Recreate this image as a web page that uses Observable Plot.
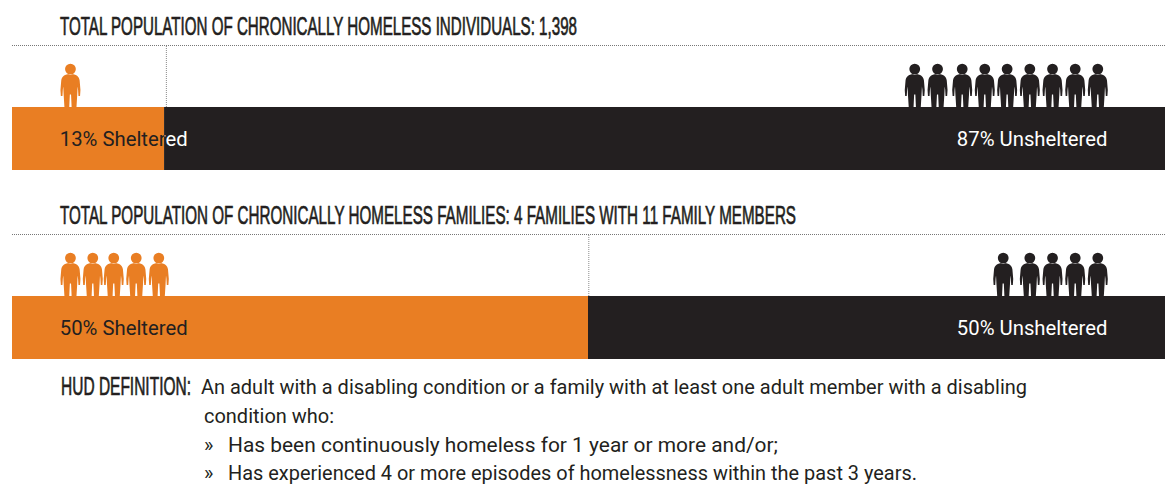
<!DOCTYPE html>
<html>
<head>
<meta charset="utf-8">
<script src="https://cdn.jsdelivr.net/npm/d3@7"></script>
<script src="https://cdn.jsdelivr.net/npm/@observablehq/plot@0.6"></script>
<style>
  html, body { margin: 0; padding: 0; background: #fff; }
  body { width: 1165px; height: 491px; position: relative; overflow: hidden; color: #231f20; font-family: Roboto, sans-serif; font-weight: 400; }
  .abs { position: absolute; white-space: nowrap; }
  .head { font-family: "Liberation Sans Narrow", "Liberation Sans", sans-serif; font-weight: 400; font-size: 26px; line-height: 28px; -webkit-text-stroke: 0.7px #231f20; transform-origin: left center; }
  .def { font-size: 20px; line-height: 28px; }
  svg { display: block; }
</style>
</head>
<body>
<script>
// ---- Data ----
const titles = [
  "TOTAL POPULATION OF CHRONICALLY HOMELESS INDIVIDUALS: 1,398",
  "TOTAL POPULATION OF CHRONICALLY HOMELESS FAMILIES: 4 FAMILIES WITH 11 FAMILY MEMBERS"
];
const shelteredShare = [13.2, 50];
const shelteredLabels = ["13% Sheltered", "50% Sheltered"];
const unshelteredLabels = ["87% Unsheltered", "50% Unsheltered"];
// where each figure stands along the 0-100 share axis
const shelteredFigures = [
  [5.03],
  [5.03, 6.97, 8.79, 10.74, 12.7]
];
const unshelteredFigures = [
  [78.32, 80.3, 82.44, 84.4, 86.34, 88.31, 90.28, 92.25, 94.21],
  [86.0, 88.31, 90.28, 92.25, 94.21]
];
const definitionLabel = "HUD DEFINITION:";
const definitionLines = [
  "An adult with a disabling condition or a family with at least one adult member with a disabling",
  "condition who:",
  "Has been continuously homeless for 1 year or more and/or;",
  "Has experienced 4 or more episodes of homelessness within the past 3 years."
];

// ---- Style and layout ----
const ORANGE = "#e97e23", BLACK = "#231f20";
const FONT = "Roboto, sans-serif";
const person = {
  draw(c) {
    c.moveTo(5.4, -38.4);
    c.arc(0, -38.4, 5.4, 0, Math.PI * 2);
    c.closePath();
    c.moveTo(0, -33.5);
    c.bezierCurveTo(-6, -33.5, -8.6, -31, -9.2, -27);
    c.lineTo(-10, -17.5);
    c.lineTo(-9.6, -11.5);
    c.lineTo(-8, -11.5);
    c.lineTo(-7.6, -18);
    c.lineTo(-7.2, -21);
    c.lineTo(-6.8, -13);
    c.lineTo(-6, 0);
    c.lineTo(-1.2, 0);
    c.lineTo(-0.6, -13);
    c.lineTo(0.6, -13);
    c.lineTo(1.2, 0);
    c.lineTo(6, 0);
    c.lineTo(6.8, -13);
    c.lineTo(7.2, -21);
    c.lineTo(7.6, -18);
    c.lineTo(8, -11.5);
    c.lineTo(9.6, -11.5);
    c.lineTo(10, -17.5);
    c.lineTo(9.2, -27);
    c.bezierCurveTo(8.6, -31, 6, -33.5, 0, -33.5);
    c.closePath();
  }
};

const TOP = 1.984; // top of a panel, in bar heights
const ruleShift = [1.8, 0.3];
function panel(i, top) {
  const share = shelteredShare[i];
  const textOpts = {y: 0.49, fontSize: 20.3, fontFamily: FONT, fontWeight: 400, lineAnchor: "middle"};
  const left = (cls, fill) => Plot.text([shelteredLabels[i]], {...textOpts, x: 4.1, text: d => d, textAnchor: "start", fill, className: cls});
  const plot = Plot.plot({
    width: 1165, height: 130,
    marginLeft: 12, marginRight: 1, marginTop: 5, marginBottom: 0,
    x: {domain: [0, 100], axis: null},
    y: {domain: [0, TOP], axis: null},
    marks: [
      Plot.ruleY([TOP], {x1: 0, x2: 100.1, stroke: "#777", strokeWidth: 1, strokeDasharray: "1,1"}),
      Plot.ruleX([share], {y1: 1, y2: TOP, stroke: "#888", strokeWidth: 1, strokeDasharray: "1,1", dx: ruleShift[i]}),
      Plot.rectX([0], {x1: 0, x2: share, y1: 0, y2: 1, fill: ORANGE}),
      Plot.rectX([0], {x1: share, x2: 100.1, y1: 0, y2: 1, fill: BLACK}),
      Plot.dot(shelteredFigures[i], {x: d => d, y: 1, symbol: person, fill: ORANGE, stroke: "none"}),
      Plot.dot(unshelteredFigures[i], {x: d => d, y: 1, symbol: person, fill: BLACK, stroke: "none"}),
      left("on-orange", BLACK),
      left("on-black", "#fff"),
      Plot.text([unshelteredLabels[i]], {...textOpts, x: 95.05, text: d => d, textAnchor: "end", fill: "#fff"})
    ]
  });
  // the left label changes colour where it crosses from one segment to the other
  const cut = plot.scale("x").apply(share);
  const svg = d3.select(plot);
  const defs = svg.append("defs");
  defs.append("clipPath").attr("id", `cl-a${i}`).append("rect").attr("x", 0).attr("y", 0).attr("width", cut).attr("height", 130);
  defs.append("clipPath").attr("id", `cl-b${i}`).append("rect").attr("x", cut).attr("y", 0).attr("width", 1165 - cut).attr("height", 130);
  svg.selectAll(".on-orange").attr("clip-path", `url(#cl-a${i})`);
  svg.selectAll(".on-black").attr("clip-path", `url(#cl-b${i})`);
  const wrap = document.createElement("div");
  wrap.className = "abs";
  wrap.style.left = "0px";
  wrap.style.top = top + "px";
  wrap.append(plot);
  document.body.append(wrap);
}

function put(text, x, y, cls, width) {
  const el = document.createElement("div");
  el.className = "abs " + cls;
  el.style.left = x + "px";
  el.style.top = y + "px";
  el.textContent = text;
  document.body.append(el);
  if (width) {
    el.style.transformOrigin = "left center";
    el.style.transform = `scaleX(${width / el.getBoundingClientRect().width})`;
  }
  return el;
}

put(titles[0], 60, 12, "head", 517);
panel(0, 40);
put(titles[1], 60, 201, "head", 736);
panel(1, 229);

put(definitionLabel, 61, 372, "head", 130);
put(definitionLines[0], 201, 373, "def", 826);
put(definitionLines[1], 204, 402, "def", 130);
put("»", 204, 431, "def");
put(definitionLines[2], 228, 431, "def", 550);
put("»", 204, 459, "def");
put(definitionLines[3], 228, 459, "def", 689);
</script>
</body>
</html>
